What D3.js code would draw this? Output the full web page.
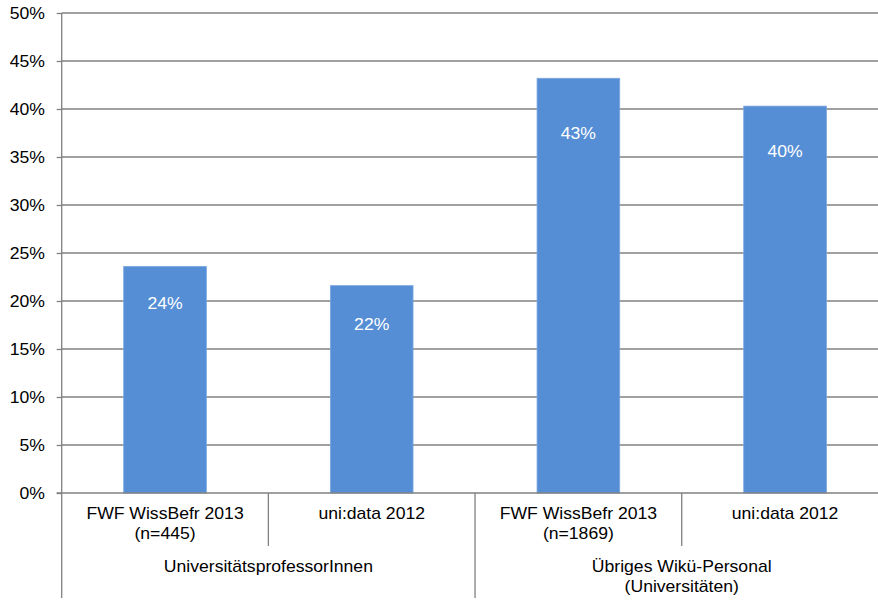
<!DOCTYPE html>
<html>
<head>
<meta charset="utf-8">
<script src="https://cdn.jsdelivr.net/npm/d3@7"></script>
<style>
  html, body { margin: 0; padding: 0; background: #fff; }
  svg { display: block; font-family: "Liberation Sans", Arial, sans-serif; }
</style>
</head>
<body>
<svg id="chart" width="878" height="601"></svg>
<script>
// ---- data ----
const categories = ["FWF WissBefr 2013|(n=445)", "uni:data 2012", "FWF WissBefr 2013|(n=1869)", "uni:data 2012"];
const groups = ["UniversitätsprofessorInnen", "Übriges Wikü-Personal|(Universitäten)"];
const groupOf = [0, 0, 1, 1];
const values = [23.6, 21.6, 43.2, 40.3];
const valueLabels = ["24%", "22%", "43%", "40%"];
const labelAt = [19.8, 17.6, 37.5, 35.6];
const yTicks = [0, 5, 10, 15, 20, 25, 30, 35, 40, 45, 50];

// ---- layout ----
const svg = d3.select("#chart");
const x0 = 61.7, x1 = 888.4, yTop = 13, yBot = 493;
const gridColor = "#808080";
const barColor = "#558ED5";
const fs = 16;
const sx = 1.1; // horizontal stretch of text as in reference

const x = d3.scaleBand().domain(d3.range(categories.length)).range([x0, x1]).padding(0);
const y = d3.scaleLinear().domain([0, 50]).range([yBot, yTop]);
const barW = x.bandwidth() * 0.4;

function addText(parent, lines, cx, cy, anchor, fill, lh) {
  const t = parent.append("text")
    .attr("transform", `translate(${cx},${cy}) scale(${sx},1)`)
    .attr("text-anchor", anchor).attr("font-size", fs).attr("fill", fill);
  lines.forEach((line, k) => {
    t.append("tspan").attr("x", 0).attr("dy", k === 0 ? 0 : lh).text(line);
  });
  return t;
}

// gridlines
svg.append("g").selectAll("line").data(yTicks.filter(t => t > 0)).join("line")
  .attr("x1", x0).attr("x2", x1)
  .attr("y1", d => y(d)).attr("y2", d => y(d))
  .attr("stroke", gridColor).attr("stroke-width", 1.3);

// y axis ticks via d3 axis (labels drawn separately for stretch)
const yAxis = d3.axisLeft(y).tickValues(yTicks).tickSize(5).tickFormat("");
const gy = svg.append("g").attr("transform", `translate(${x0},0)`).call(yAxis);
gy.select(".domain").remove();
gy.selectAll(".tick line").attr("stroke", gridColor).attr("stroke-width", 1.3);
yTicks.forEach(t => addText(svg, [t + "%"], 45, y(t) + 5.7, "end", "#000", 0));

// bars
svg.append("g").selectAll("rect").data(values).join("rect")
  .attr("x", (d, i) => x(i) + (x.bandwidth() - barW) / 2)
  .attr("width", barW)
  .attr("y", d => y(d))
  .attr("height", d => y(0) - y(d))
  .attr("fill", barColor)
  .attr("stroke", "#7BA7DF").attr("stroke-width", 0.8);

// value labels
valueLabels.forEach((l, i) => addText(svg, [l], x(i) + x.bandwidth() / 2, y(labelAt[i]) + 5.7, "middle", "#fff", 0));

// x axis baseline
svg.append("line").attr("x1", x0 - 5).attr("x2", x1).attr("y1", yBot).attr("y2", yBot)
  .attr("stroke", gridColor).attr("stroke-width", 1.3);
// left axis line extended into category area
svg.append("line").attr("x1", x0).attr("x2", x0).attr("y1", yTop).attr("y2", 598)
  .attr("stroke", gridColor).attr("stroke-width", 1.3);

// separators
categories.forEach((c, i) => {
  if (i === 0) return;
  const bx = x(i);
  const isGroupBoundary = groupOf[i] !== groupOf[i - 1];
  svg.append("line").attr("x1", bx).attr("x2", bx).attr("y1", yBot)
    .attr("y2", isGroupBoundary ? 598 : 546)
    .attr("stroke", gridColor).attr("stroke-width", 1.3);
});

// category labels
categories.forEach((c, i) => addText(svg, c.split("|"), x(i) + x.bandwidth() / 2, 519, "middle", "#000", 20));

// group labels
groups.forEach((g, gi) => {
  const idx = d3.range(categories.length).filter(i => groupOf[i] === gi);
  const gx0 = x(idx[0]), gx1 = x(idx[idx.length - 1]) + x.bandwidth();
  addText(svg, g.split("|"), (gx0 + gx1) / 2, 572, "middle", "#000", 20);
});
</script>
</body>
</html>
